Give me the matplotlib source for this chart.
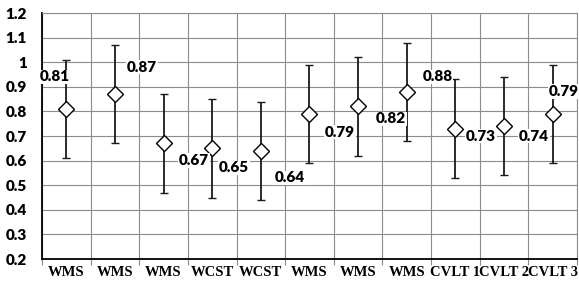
import matplotlib
matplotlib.use('Agg')
import matplotlib.pyplot as plt

# dados do grafico
categorias = ['WMS', 'WMS', 'WMS', 'WCST', 'WCST', 'WMS', 'WMS', 'WMS',
              'CVLT 1', 'CVLT 2', 'CVLT 3']
valores = [0.81, 0.87, 0.67, 0.65, 0.64, 0.79, 0.82, 0.88, 0.73, 0.74, 0.79]
erros = [0.2, 0.2, 0.2, 0.2, 0.2, 0.2, 0.2, 0.2, 0.2, 0.2, 0.2]
rotulos = ['0.81', '0.87', '0.67', '0.65', '0.64', '0.79', '0.82', '0.88',
           '0.73', '0.74', '0.79']

# posicao dos rotulos (deslocamento em x, altura em y)
rotulo_dx = [-0.23, 0.56, 0.63, 0.45, 0.6, 0.63, 0.68, 0.63, 0.53, 0.62, 0.22]
rotulo_y = [0.94, 0.98, 0.60, 0.57, 0.53, 0.716, 0.77, 0.94, 0.70, 0.70, 0.88]

fig = plt.figure(figsize=(5.79, 2.86), dpi=100)
ax = fig.add_axes([0.0725, 0.0944, 0.924, 0.8601])

xs = [i + 0.5 for i in range(len(valores))]

ax.errorbar(xs, valores, yerr=erros, fmt='D', color='black', ecolor='#1a1a1a',
            elinewidth=1.3, capsize=3, capthick=1.3, markersize=8.5,
            markerfacecolor='white', markeredgecolor='black', markeredgewidth=1,
            zorder=3)

for i, txt in enumerate(rotulos):
    ax.text(xs[i] + rotulo_dx[i], rotulo_y[i], txt, ha='center', va='center',
            fontsize=11, fontweight='heavy', family='Lato', color='black',
            bbox=dict(facecolor='white', edgecolor='none', pad=0.5), zorder=4)

ax.set_xlim(0, len(valores))
ax.set_ylim(0.2, 1.2)
ax.set_yticks([0.2 + 0.1 * k for k in range(11)])
ax.set_yticklabels(['0.2', '0.3', '0.4', '0.5', '0.6', '0.7', '0.8', '0.9',
                    '1', '1.1', '1.2'])
for t in ax.get_yticklabels():
    t.set_family('Lato')
    t.set_fontweight('heavy')
    t.set_fontsize(11)
ax.tick_params(axis='y', length=0, pad=11)

ax.set_xticks(range(len(valores) + 1))
ax.set_xticklabels([])
ax.set_xticks(xs, minor=True)
ax.set_xticklabels(categorias, minor=True, family='Liberation Serif',
                   fontweight='bold', fontsize=10.5)
ax.tick_params(axis='x', which='major', length=4, direction='out', color='#888888')
ax.tick_params(axis='x', which='minor', length=0, pad=5)

ax.grid(True, which='major', color='#8c8c8c', linewidth=0.8)
ax.set_axisbelow(True)

ax.spines['left'].set_color('black')
ax.spines['bottom'].set_color('black')
ax.spines['left'].set_linewidth(1.3)
ax.spines['bottom'].set_linewidth(1.3)
ax.spines['top'].set_color('#8c8c8c')
ax.spines['right'].set_color('#8c8c8c')
ax.spines['top'].set_linewidth(0.8)
ax.spines['right'].set_linewidth(0.8)

plt.savefig('out.png', dpi=100)
